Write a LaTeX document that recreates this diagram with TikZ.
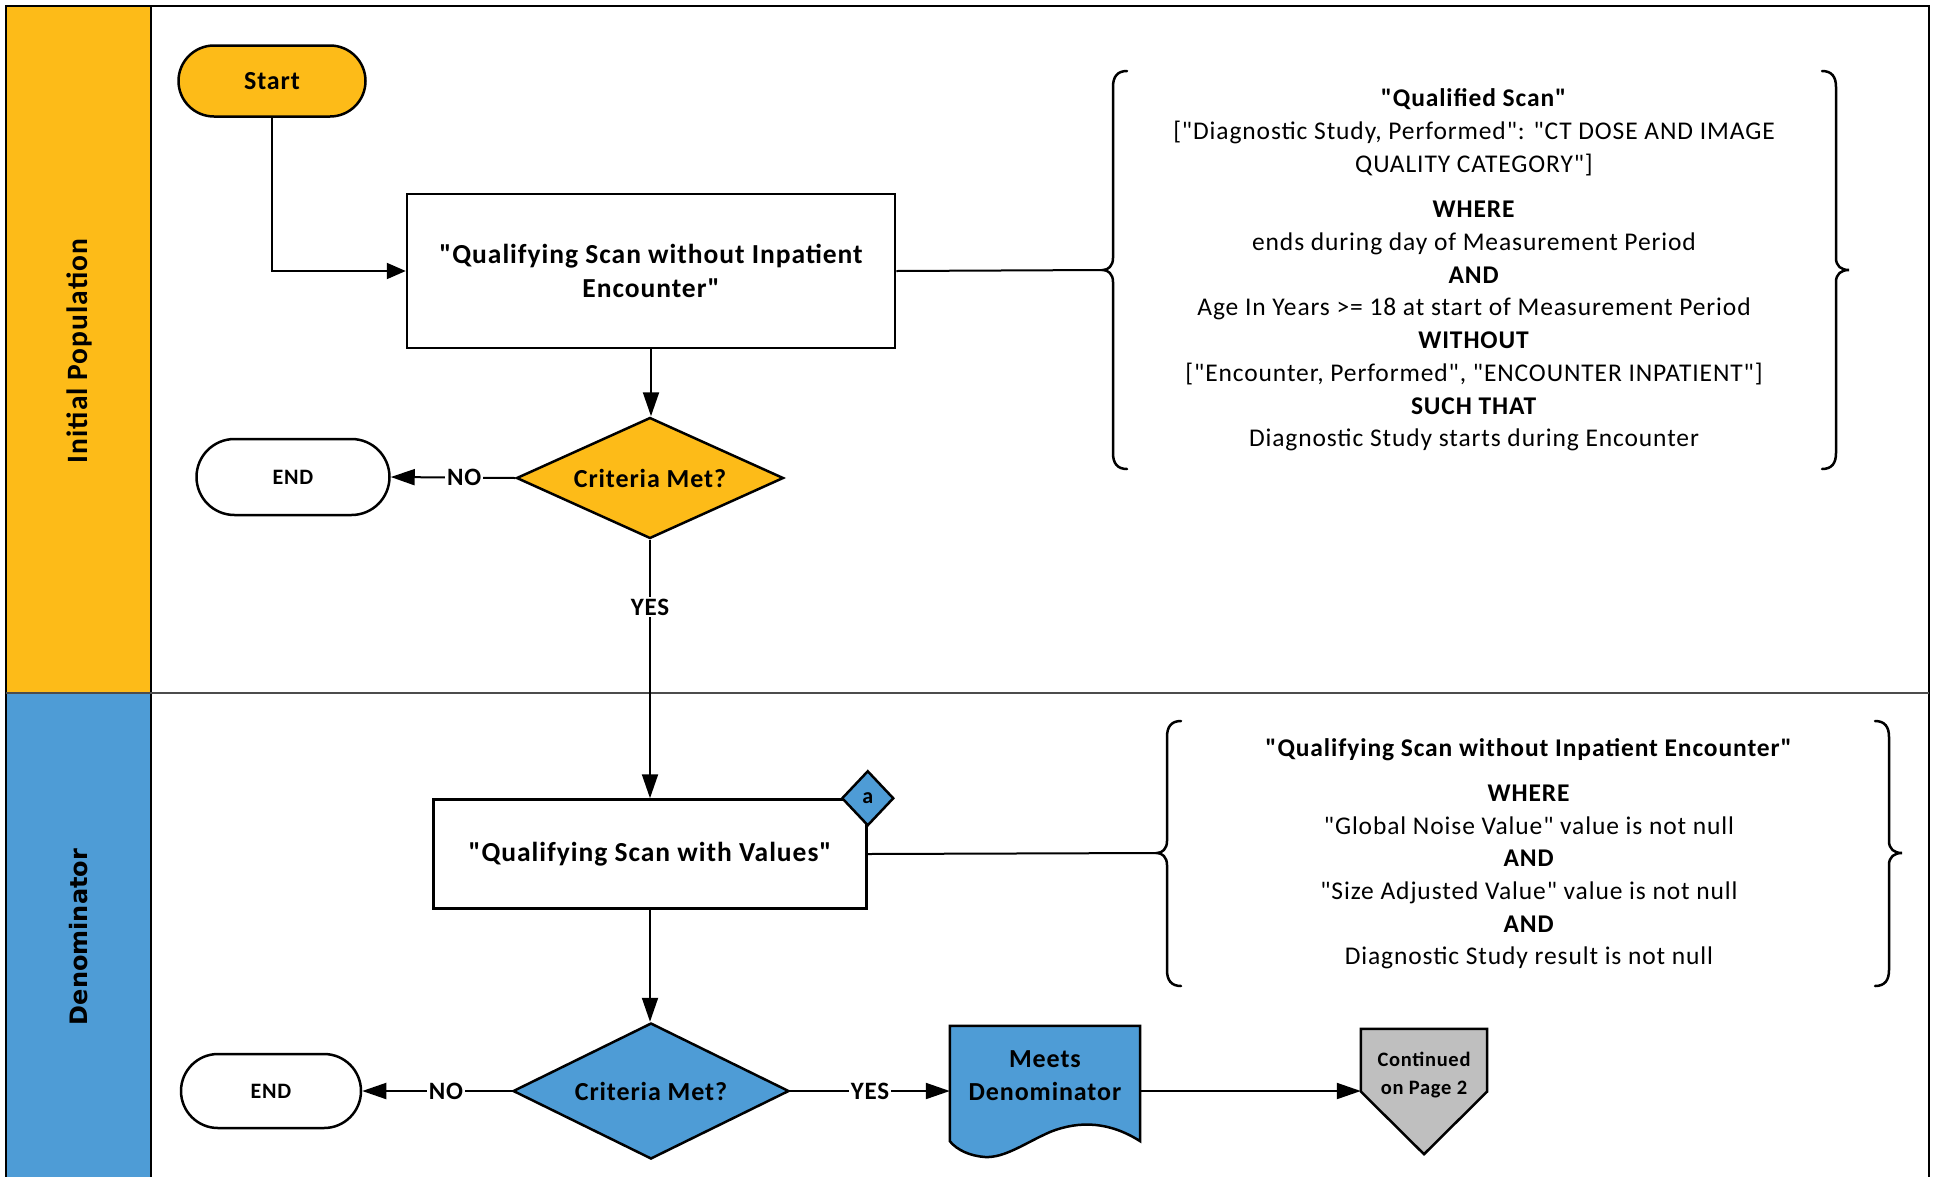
\documentclass[tikz,border=0pt]{standalone}
\usepackage{fontspec}
\setmainfont{Carlito}[Ligatures=TeXOff,LetterSpace=3.5]
\newfontfamily\lanefont{DejaVu Sans}
\usetikzlibrary{arrows.meta,shapes.geometric,shapes.misc}
\definecolor{ipyellow}{RGB}{253,187,24}
\definecolor{denblue}{RGB}{78,156,214}
\definecolor{cgray}{RGB}{191,191,191}
\begin{document}
\begin{tikzpicture}[x=1pt,y=-1pt,
  bigb/.style={font=\fontsize{26}{33}\selectfont\bfseries},
  boxb/.style={font=\fontsize{27.5}{34}\selectfont\bfseries},
  conn/.style={line width=2pt},
  arr/.style={conn,-{Triangle[length=24pt,width=16pt]}},
  shp/.style={draw,line width=2.5pt,inner sep=0pt,align=center},
  procbox/.style={shp,rectangle,fill=white,boxb},
  termbox/.style={shp,rounded rectangle,bigb},
  decide/.style={shp,diamond,bigb},
  lbl/.style={fill=white,inner sep=2pt,font=\fontsize{25}{30}\selectfont\bfseries},
  info/.style={align=center,font=\fontsize{25.5}{32.7}\selectfont},
  brc/.style={line width=2.5pt,line cap=round},
]
\useasboundingbox (0,0) rectangle (1933,1176);
% lanes
\fill[ipyellow] (6,6) rectangle (151,693);
\fill[denblue] (6,693) rectangle (151,1182);
\draw[line width=2pt] (6,1182) -- (6,6) -- (1929,6) -- (1929,1182);
\draw[line width=2pt] (151,6) -- (151,1182);
\draw[line width=2.5pt,black!70] (6,693) -- (1929,693);
\node[rotate=90,font=\fontsize{29.5}{34}\selectfont\bfseries] (lane1) at (79,351) {Initial Population};
\node[rotate=90,font=\lanefont\fontsize{24}{28}\selectfont\bfseries] (lane2) at (79,937) {Denominator};

% initial population
\node[termbox,fill=ipyellow,minimum width=187pt,minimum height=71pt] (start) at (272,81) {Start};
\node[procbox,minimum width=488pt,minimum height=154pt] (box1) at (651,271) {"Qualifying Scan without Inpatient\\Encounter"};
\node[decide,fill=ipyellow,aspect=2.2,minimum width=267pt,minimum height=121pt] (d1) at (650,478) {Criteria Met?};
\node[termbox,fill=white,minimum width=193pt,minimum height=76pt,font=\fontsize{22}{26}\selectfont\bfseries] (end1) at (293,477) {END};

% denominator
\node[procbox,minimum width=433pt,minimum height=109pt] (box2) at (650,854) {"Qualifying Scan with Values"};
\node[shp,diamond,fill=denblue,aspect=0.95,minimum width=52pt,minimum height=55pt,font=\fontsize{22}{26}\selectfont\bfseries] (amark) at (box2.north east) {a};
\node[decide,fill=denblue,aspect=2.0,minimum width=276pt,minimum height=136pt] (d2) at (651,1091) {Criteria Met?};
\node[termbox,fill=white,minimum width=180pt,minimum height=74pt,font=\fontsize{22}{26}\selectfont\bfseries] (end2) at (271,1091) {END};

% document shape
\node[minimum width=190pt,minimum height=115pt,inner sep=0pt] (meets) at (1045,1083.5) {};
\draw[line width=2.5pt,fill=denblue] (meets.north west) -- (meets.north east) -- (meets.south east)
  .. controls (1110,1122) and (1080,1120) .. (1050,1132)
  .. controls (1025,1143) and (1005,1158) .. (985,1157)
  .. controls (970,1156) and (957,1150) .. (meets.south west) -- cycle;
\node[bigb,align=center] (meetstext) at (1045,1076) {Meets\\Denominator};

% off-page connector
\node[minimum width=126pt,minimum height=125pt,inner sep=0pt] (cont) at (1424,1091.5) {};
\draw[line width=2.5pt,fill=cgray] (cont.north west) -- (cont.north east) -- (cont.east) -- (cont.south) -- (cont.west) -- cycle;
\node[align=center,font=\fontsize{20.5}{28}\selectfont\bfseries] (conttext) at (1424,1075) {Continued\\on Page 2};

% info blocks
\node[info] (info1) at (1474,270) {\textbf{"Qualified Scan"}\\
{[}"Diagnostic Study, Performed": "CT DOSE AND IMAGE\\
QUALITY CATEGORY"]\\[13pt]
\textbf{WHERE}\\
ends during day of Measurement Period\\
\textbf{AND}\\
Age In Years >= 18 at start of Measurement Period\\
\textbf{WITHOUT}\\
{[}"Encounter, Performed", "ENCOUNTER INPATIENT"]\\
\textbf{SUCH THAT}\\
Diagnostic Study starts during Encounter};
\node[info] (info2) at (1529,854) {\textbf{"Qualifying Scan without Inpatient Encounter"}\\[12pt]
\textbf{WHERE}\\
"Global Noise Value" value is not null\\
\textbf{AND}\\
"Size Adjusted Value" value is not null\\
\textbf{AND}\\
Diagnostic Study result is not null};

% braces
\coordinate (b1tip) at (1103,270);
\coordinate (b2tip) at (1157,853);
\draw[brc] (1127,71) .. controls (1117,71) and (1113,77) .. (1113,87) -- (1113,258)
  .. controls (1113,266) and (1108,270) .. (b1tip) .. controls (1108,270) and (1113,274) .. (1113,282)
  -- (1113,453) .. controls (1113,463) and (1117,469) .. (1127,469);
\draw[brc] (1822,71) .. controls (1832,71) and (1836,77) .. (1836,87) -- (1836,258)
  .. controls (1836,266) and (1841,270) .. (1849,270) .. controls (1841,270) and (1836,274) .. (1836,282)
  -- (1836,453) .. controls (1836,463) and (1832,469) .. (1822,469);
\draw[brc] (1181,721) .. controls (1171,721) and (1167,727) .. (1167,737) -- (1167,841)
  .. controls (1167,849) and (1162,853) .. (b2tip) .. controls (1162,853) and (1167,857) .. (1167,865)
  -- (1167,970) .. controls (1167,980) and (1171,986) .. (1181,986);
\draw[brc] (1875,721) .. controls (1885,721) and (1889,727) .. (1889,737) -- (1889,841)
  .. controls (1889,849) and (1894,853) .. (1902,853) .. controls (1894,853) and (1889,857) .. (1889,865)
  -- (1889,970) .. controls (1889,980) and (1885,986) .. (1875,986);

% connectors
\draw[conn,-{Triangle[length=19pt,width=16pt]}] (start.south) |- (box1.west);
\draw[arr] (box1.south) -- (box1.south |- d1.north);
\draw[arr] (d1.west) -- node[lbl,pos=0.41] (no1) {NO} (end1.east);
\draw[arr] (d1.south) -- node[lbl,pos=0.26] (yes1) {YES} (d1.south |- box2.north);
\draw[conn] (box1.east) -- (b1tip);
\draw[conn] (box2.east) -- (b2tip);
\draw[arr] (box2.south) -- (box2.south |- d2.north);
\draw[arr] (d2.west) -- node[lbl,pos=0.44] (no2) {NO} (end2.east);
\draw[arr] (d2.east) -- node[lbl,pos=0.5] (yes2) {YES} (d2.east -| meets.west);
\draw[arr] (d2.east -| meets.east) -- (d2.east -| cont.west);
\end{tikzpicture}
\end{document}
